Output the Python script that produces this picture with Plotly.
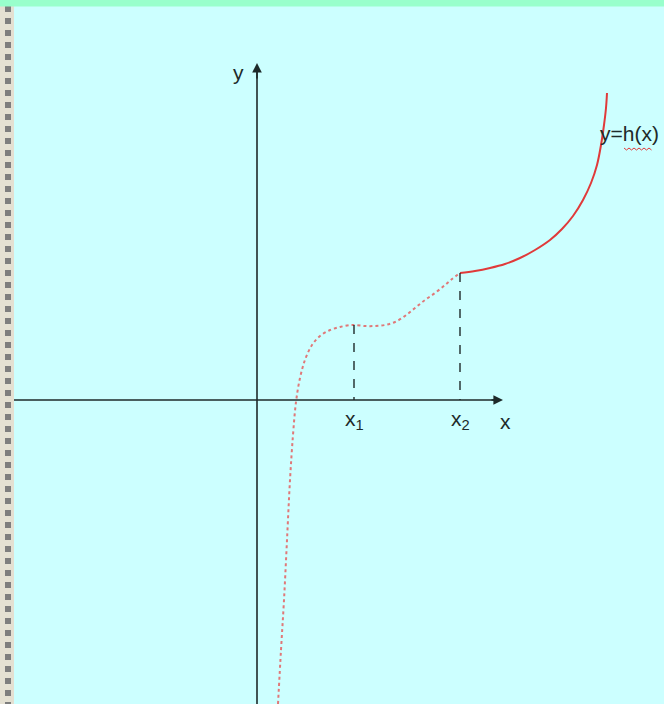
import plotly.graph_objects as go

# Curve h(x) (pixel-based coordinates, y down)
curve_dotted_x = [278, 281, 284, 287, 290, 293, 296, 300, 305, 312, 320, 330, 340, 350, 355, 365, 375, 385, 395, 405, 415, 425, 435, 445, 452, 460]
curve_dotted_y = [704, 650, 600, 540, 480, 435, 402, 378, 360, 345, 336, 330, 327, 325, 325, 326, 326, 325, 322, 316, 308, 300, 293, 285, 279, 273]
curve_solid_x = [460, 475, 490, 505, 520, 535, 550, 562, 573, 583, 591, 597, 601, 604, 606, 607]
curve_solid_y = [273, 271, 268, 264, 258, 250, 240, 229, 216, 200, 183, 165, 145, 125, 108, 93]

origin = (257, 400)
x_marks = [354, 460]
x_mark_tops = [325, 273]
x_mark_labels = ["x<sub>1</sub>", "x<sub>2</sub>"]

fig = go.Figure()

# left decorative border
fig.add_shape(type="rect", x0=0, x1=14, y0=0, y1=704, fillcolor="#E4E0D2", line_width=0, layer="below")
fig.add_shape(type="line", x0=8, x1=8, y0=6, y1=704, line=dict(color="#7E7E7E", width=6, dash="dot"), layer="below")
# top green strip
fig.add_shape(type="rect", x0=0, x1=664, y0=0, y1=6.5, fillcolor="#99FFCC", line_width=0)

# axes
fig.add_shape(type="line", x0=14, x1=495, y0=origin[1], y1=origin[1], line=dict(color="#1E2A2A", width=1.6))
fig.add_shape(type="line", x0=origin[0], x1=origin[0], y0=704, y1=72, line=dict(color="#1E2A2A", width=1.6))
fig.add_annotation(x=503, y=origin[1], ax=490, ay=origin[1], xref="x", yref="y", axref="x", ayref="y",
                   showarrow=True, arrowhead=2, arrowsize=1.2, arrowwidth=1.6, arrowcolor="#1E2A2A", text="")
fig.add_annotation(x=origin[0], y=63, ax=origin[0], ay=80, xref="x", yref="y", axref="x", ayref="y",
                   showarrow=True, arrowhead=2, arrowsize=1.2, arrowwidth=1.6, arrowcolor="#1E2A2A", text="")

# dashed verticals
for xm, yt in zip(x_marks, x_mark_tops):
    fig.add_shape(type="line", x0=xm, x1=xm, y0=yt, y1=origin[1], line=dict(color="#1E2A2A", width=1.4, dash="dash"))

fig.add_trace(go.Scatter(x=curve_dotted_x, y=curve_dotted_y, mode="lines", line=dict(color="#E07878", width=2, dash="dot", shape="spline"), hoverinfo="skip"))
fig.add_trace(go.Scatter(x=curve_solid_x, y=curve_solid_y, mode="lines", line=dict(color="#E03A3A", width=2, shape="spline"), hoverinfo="skip"))

font = dict(family="Liberation Sans Narrow, Arial Narrow, Liberation Sans, sans-serif", size=21, color="#1E2A2A")
for xm, lab in zip(x_marks, x_mark_labels):
    fig.add_annotation(x=xm, y=420, text=lab, showarrow=False, font=font, xref="x", yref="y")
fig.add_annotation(x=505, y=421, text="x", showarrow=False, font=font)
fig.add_annotation(x=238, y=72, text="y", showarrow=False, font=font)
fig.add_annotation(x=661, y=133, text="y=h(x)", showarrow=False, font=font, xanchor="right")
# spell-check squiggle under h(x)
sq_x = [624 + i * 2.5 for i in range(12)]
sq_y = [148 + (i % 2) * 2 for i in range(12)]
fig.add_trace(go.Scatter(x=sq_x, y=sq_y, mode="lines", line=dict(color="#E03A3A", width=1), hoverinfo="skip"))

fig.update_layout(
    width=664, height=704, margin=dict(l=0, r=0, t=0, b=0),
    paper_bgcolor="#CCFFFF", plot_bgcolor="#CCFFFF", showlegend=False,
    xaxis=dict(range=[0, 664], visible=False, fixedrange=True),
    yaxis=dict(range=[704, 0], visible=False, fixedrange=True),
)
fig.write_html("out.html", config={"displayModeBar": False},
               post_script="document.body.style.margin='0';document.body.style.overflow='hidden';")
